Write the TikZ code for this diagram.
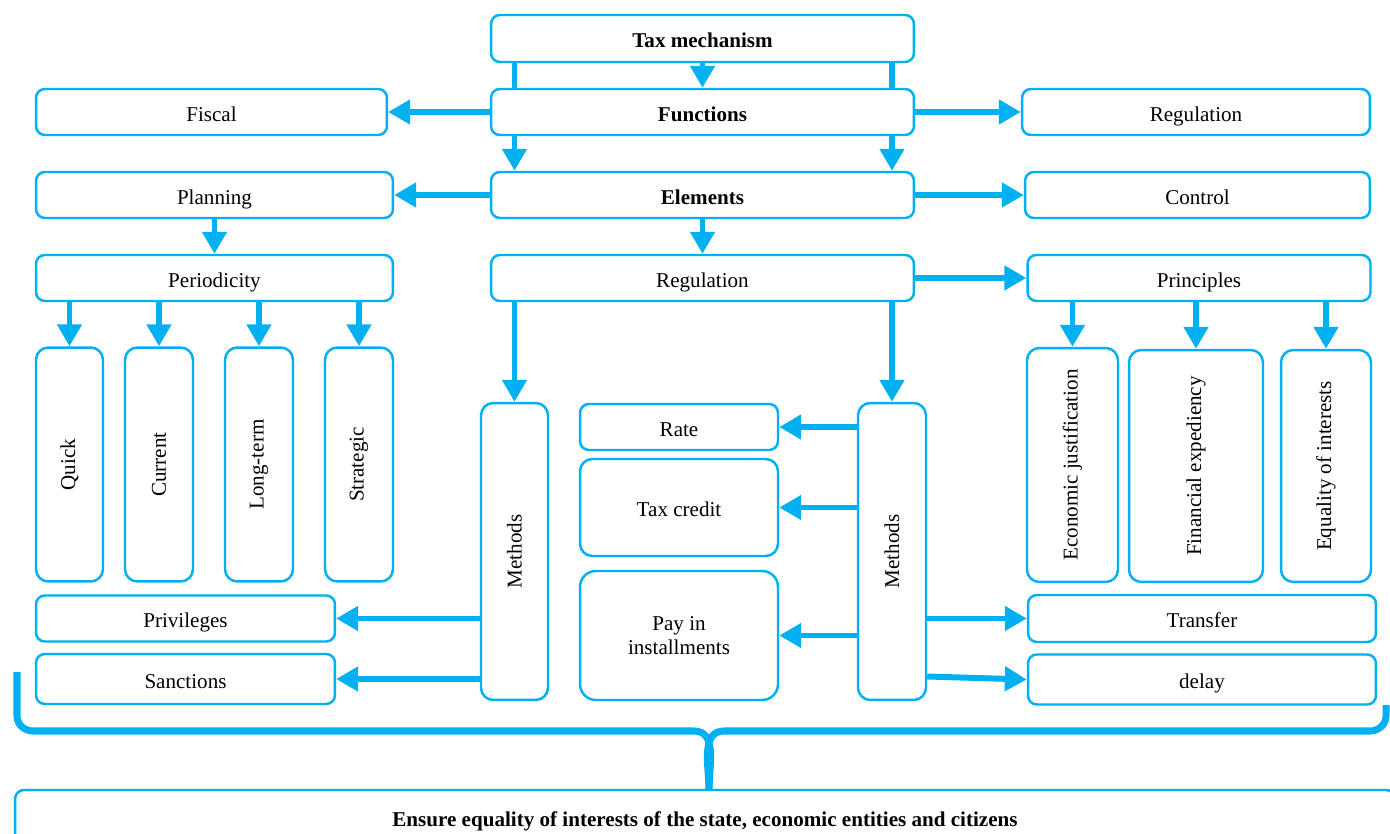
\documentclass[tikz,border=0pt]{standalone}
\usepackage{fontspec}
\setmainfont{Liberation Serif}
\usepackage{graphicx}
\usetikzlibrary{positioning, arrows.meta}
\definecolor{schemeblue}{RGB}{0,176,240}

\begin{document}
\begin{tikzpicture}[
    x=0.02cm, y=-0.02cm,
    box/.style={draw=schemeblue, line width=1.4pt, rounded corners=5pt, fill=white,
        inner sep=0pt, align=center, font=\fontsize{12}{14}\selectfont},
    line/.style={box, text height=10.5pt, text depth=0pt},
    bold/.style={font=\fontsize{12}{14}\selectfont\bfseries},
    tall/.style={box, rounded corners=7pt},
    arrow/.style={-{Triangle[length=12.5pt, width=13.5pt]}, draw=schemeblue, line width=3.4pt},
    bar/.style={draw=schemeblue, line width=3.4pt}
]
    \useasboundingbox (0,0) rectangle (1390,834);
    \clip (0,0) rectangle (1390,834);

    % Nodes
    \node[line, bold, minimum width=8.46cm, minimum height=0.94cm] (tax) at (702.5,38.5) {Tax mechanism};
    \node[line, bold, minimum width=8.46cm, minimum height=0.92cm] (func) at (702.5,112) {Functions};
    \node[line, bold, minimum width=8.46cm, minimum height=0.92cm] (elem) at (702.5,195) {Elements};
    \node[line, minimum width=8.46cm, minimum height=0.92cm] (regmid) at (702.5,278) {Regulation};

    \node[line, minimum width=7.02cm, minimum height=0.92cm] (fiscal) at (211.5,112) {Fiscal};
    \node[line, minimum width=7.14cm, minimum height=0.92cm] (plan) at (214.5,195) {Planning};
    \node[line, minimum width=7.14cm, minimum height=0.92cm] (per) at (214.5,278) {Periodicity};

    \node[line, minimum width=6.96cm, minimum height=0.92cm] (regtop) at (1196,112) {Regulation};
    \node[line, minimum width=6.90cm, minimum height=0.92cm] (ctrl) at (1197.5,195) {Control};
    \node[line, minimum width=6.86cm, minimum height=0.92cm] (princ) at (1199,278) {Principles};

    \node[tall, minimum width=1.34cm, minimum height=4.68cm] (quick) at (69.5,464.5) {\rotatebox{90}{Quick}};
    \node[tall, minimum width=1.36cm, minimum height=4.68cm] (current) at (159,464.5) {\rotatebox{90}{Current}};
    \node[tall, minimum width=1.36cm, minimum height=4.68cm] (longt) at (259,464.5) {\rotatebox{90}{Long-term}};
    \node[tall, minimum width=1.36cm, minimum height=4.68cm] (strat) at (359,464.5) {\rotatebox{90}{Strategic}};

    \node[tall, minimum width=1.82cm, minimum height=4.68cm] (econ) at (1072.5,465) {\rotatebox{90}{Economic justification}};
    \node[tall, minimum width=2.68cm, minimum height=4.64cm] (finexp) at (1196,466) {\rotatebox{90}{Financial expediency}};
    \node[tall, minimum width=1.80cm, minimum height=4.64cm] (equal) at (1326,466) {\rotatebox{90}{Equality of interests}};

    \node[tall, minimum width=1.34cm, minimum height=5.94cm] (methL) at (514.5,551.5) {\rotatebox{90}{Methods}};
    \node[tall, minimum width=1.36cm, minimum height=5.94cm] (methR) at (892,551.5) {\rotatebox{90}{Methods}};

    \node[line, minimum width=3.96cm, minimum height=0.92cm] (rate) at (679,427) {Rate};
    \node[tall, text height=10.5pt, text depth=0pt, minimum width=3.96cm, minimum height=1.94cm] (credit) at (679,507.5) {Tax credit};
    \node[tall, rounded corners=9pt, minimum width=3.96cm, minimum height=2.58cm] (pay) at (679,635.5) {Pay in\\installments};

    \node[line, minimum width=5.98cm, minimum height=0.92cm] (priv) at (185.5,618.5) {Privileges};
    \node[line, minimum width=5.98cm, minimum height=1.00cm] (sanct) at (185.5,679) {Sanctions};
    \node[line, minimum width=6.96cm, minimum height=0.94cm] (transfer) at (1202,618.5) {Transfer};
    \node[line, minimum width=6.96cm, minimum height=1.00cm] (delay) at (1202,679.5) {delay};

    \node[line, bold, minimum width=27.6cm, minimum height=1.08cm] (goal) at (705,817) {Ensure equality of interests of the state, economic entities and citizens};

    % Arrows
    \draw[bar] (tax.south -| methL) -- (func.north -| methL);
    \draw[bar] (tax.south -| methR) -- (func.north -| methR);
    \draw[arrow] (tax) -- (func);
    \draw[arrow] (func) -- (fiscal);
    \draw[arrow] (func) -- (regtop);
    \draw[arrow] (func.south -| methL) -- (elem.north -| methL);
    \draw[arrow] (func.south -| methR) -- (elem.north -| methR);
    \draw[arrow] (elem) -- (plan);
    \draw[arrow] (elem) -- (ctrl);
    \draw[arrow] (elem) -- (regmid);
    \draw[arrow] (plan) -- (per);
    \draw[arrow] (regmid) -- (princ);

    \foreach \n in {quick, current, longt, strat}
        \draw[arrow] (per.south -| \n) -- (\n.north);
    \foreach \n in {econ, finexp, equal}
        \draw[arrow] (princ.south -| \n) -- (\n.north);

    \draw[arrow] (regmid.south -| methL) -- (methL.north);
    \draw[arrow] (regmid.south -| methR) -- (methR.north);

    \draw[arrow] (methR.west |- rate) -- (rate.east);
    \draw[arrow] (methR.west |- credit) -- (credit.east);
    \draw[arrow] (methR.west |- pay) -- (pay.east);
    \draw[arrow] (methL.west |- priv) -- (priv.east);
    \draw[arrow] (methL.west |- sanct) -- (sanct.east);
    \draw[arrow] (methR.east |- transfer) -- (transfer.west);
    \draw[arrow] ([yshift=0.06cm]methR.east |- delay) -- (delay.west);

    % Brace
    \draw[schemeblue, line width=4pt]
        (17,672) -- (17,716) to[out=-90, in=180] (33,731) -- (694,731)
        to[out=0, in=90] (709,790);
    \draw[schemeblue, line width=4pt]
        (1386,705) -- (1386,716) to[out=-90, in=0] (1370,731) -- (724,731)
        to[out=180, in=90] (709,790);
\end{tikzpicture}
\end{document}
